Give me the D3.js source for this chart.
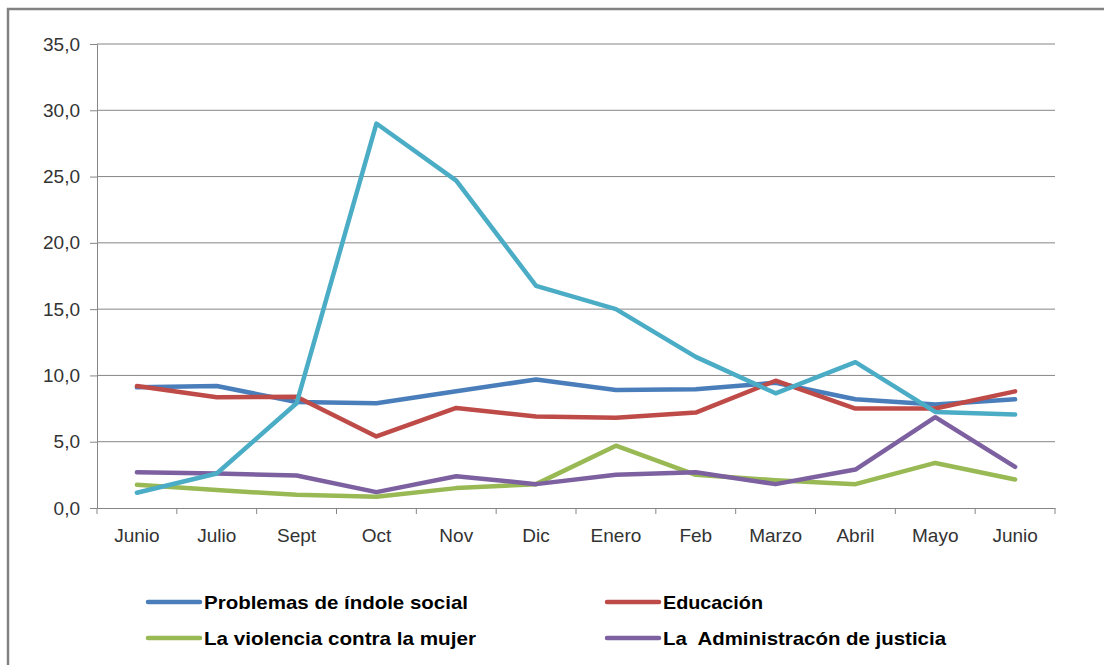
<!DOCTYPE html>
<html>
<head>
<meta charset="utf-8">
<script src="https://cdn.jsdelivr.net/npm/d3@7"></script>
<style>
  body { margin: 0; background: #fff; }
  svg { display: block; font-family: "Liberation Sans", Arial, sans-serif; }
</style>
</head>
<body>
<svg id="chart" width="1104" height="665"></svg>
<script>
  // month labels (the last "Junio" repeats, so the scale works on index)
  var months = ['Junio', 'Julio', 'Sept', 'Oct', 'Nov', 'Dic', 'Enero', 'Feb', 'Marzo', 'Abril', 'Mayo', 'Junio'];
  var yTicks = [0, 5, 10, 15, 20, 25, 30, 35];

  var social     = [9.1, 9.2, 8.0, 7.9, 8.8, 9.7, 8.9, 8.95, 9.45, 8.2, 7.8, 8.2];
  var educacion  = [9.2, 8.35, 8.4, 5.4, 7.55, 6.9, 6.8, 7.2, 9.6, 7.5, 7.5, 8.8];
  var violencia  = [1.75, 1.35, 1.0, 0.85, 1.5, 1.8, 4.7, 2.5, 2.1, 1.8, 3.4, 2.15];
  var justicia   = [2.7, 2.6, 2.45, 1.2, 2.4, 1.8, 2.5, 2.7, 1.8, 2.9, 6.85, 3.1];
  var otro       = [1.15, 2.6, 7.9, 29.0, 24.7, 16.75, 15.0, 11.4, 8.65, 11.0, 7.25, 7.05];

  var seriesNames  = ['Problemas de índole social', 'Educación', 'La violencia contra la mujer', 'La  Administracón de justicia', ''];
  var seriesColors = ['#4a7ebb', '#be4b48', '#98b954', '#7d60a0', '#4bacc6'];
  var seriesValues = [social, educacion, violencia, justicia, otro];

  (function () {
    var svg = d3.select('#chart');

    // outer chart frame (cut off at right and bottom)
    svg.append('rect')
        .attr('x', 8).attr('y', 9)
        .attr('width', 1110).attr('height', 680)
        .style('fill', 'none')
        .style('stroke', '#828282')
        .style('stroke-width', 2.5);

    var pLeft = 97, pRight = 1055, pTop = 44, pBottom = 508;

    var x = d3.scaleBand()
        .domain(d3.range(months.length))
        .range([pLeft, pRight]);

    var y = d3.scaleLinear()
        .domain([0, 35])
        .range([pBottom, pTop]);

    // grid
    svg.append('g').selectAll('line')
        .data(yTicks.slice(1))
        .enter().append('line')
        .attr('x1', pLeft).attr('x2', pRight)
        .attr('y1', function (d) { return y(d); })
        .attr('y2', function (d) { return y(d); })
        .style('stroke', '#868686')
        .style('stroke-width', 1);

    var yAxis = svg.append('g')
        .attr('transform', 'translate(' + pLeft + ',0)')
        .call(d3.axisLeft(y).tickValues(yTicks).tickSize(7).tickPadding(10)
            .tickFormat(function (d) { return d.toFixed(1).replace('.', ','); }));

    var xAxis = svg.append('g')
        .attr('transform', 'translate(0,' + pBottom + ')')
        .call(d3.axisBottom(x).tickSize(0).tickPadding(21)
            .tickFormat(function (i) { return months[i]; }));

    // tick marks between categories
    xAxis.selectAll('.sep')
        .data(d3.range(months.length + 1))
        .enter().append('line')
        .attr('class', 'sep')
        .attr('x1', function (i) { return pLeft + i * x.step(); })
        .attr('x2', function (i) { return pLeft + i * x.step(); })
        .attr('y1', 0).attr('y2', 6)
        .style('stroke', '#868686');

    [yAxis, xAxis].forEach(function (a) {
      a.select('.domain').style('stroke', '#868686');
      a.selectAll('.tick line').style('stroke', '#868686');
      a.selectAll('text')
          .style('font-family', '"Liberation Sans", Arial, sans-serif')
          .style('font-size', '19px')
          .style('fill', '#333');
    });

    var line = d3.line()
        .x(function (d, i) { return x(i) + x.bandwidth() / 2; })
        .y(function (d) { return y(d); });

    svg.append('g').selectAll('path')
        .data(seriesValues)
        .enter().append('path')
        .attr('d', line)
        .style('fill', 'none')
        .style('stroke', function (d, i) { return seriesColors[i]; })
        .style('stroke-width', 4.5)
        .style('stroke-linejoin', 'round')
        .style('stroke-linecap', 'round');

    // legend, two columns; the fifth entry falls outside the picture
    var legendPos = [
      { x: 148, y: 602, w: 264 },
      { x: 607, y: 602, w: 100 },
      { x: 148, y: 638, w: 272 },
      { x: 607, y: 638, w: 283 }
    ];

    var legend = svg.append('g').selectAll('g')
        .data(legendPos)
        .enter().append('g')
        .attr('transform', function (d) { return 'translate(' + d.x + ',' + d.y + ')'; });

    legend.append('line')
        .attr('x1', 0).attr('x2', 52)
        .style('stroke', function (d, i) { return seriesColors[i]; })
        .style('stroke-width', 4.5)
        .style('stroke-linecap', 'round');

    legend.append('text')
        .attr('x', 56)
        .attr('y', 7)
        .attr('textLength', function (d) { return d.w; })
        .attr('lengthAdjust', 'spacingAndGlyphs')
        .style('white-space', 'pre')
        .style('font-size', '19px')
        .style('font-weight', 'bold')
        .style('fill', '#000')
        .text(function (d, i) { return seriesNames[i]; });
  })();
</script>
</body>
</html>
